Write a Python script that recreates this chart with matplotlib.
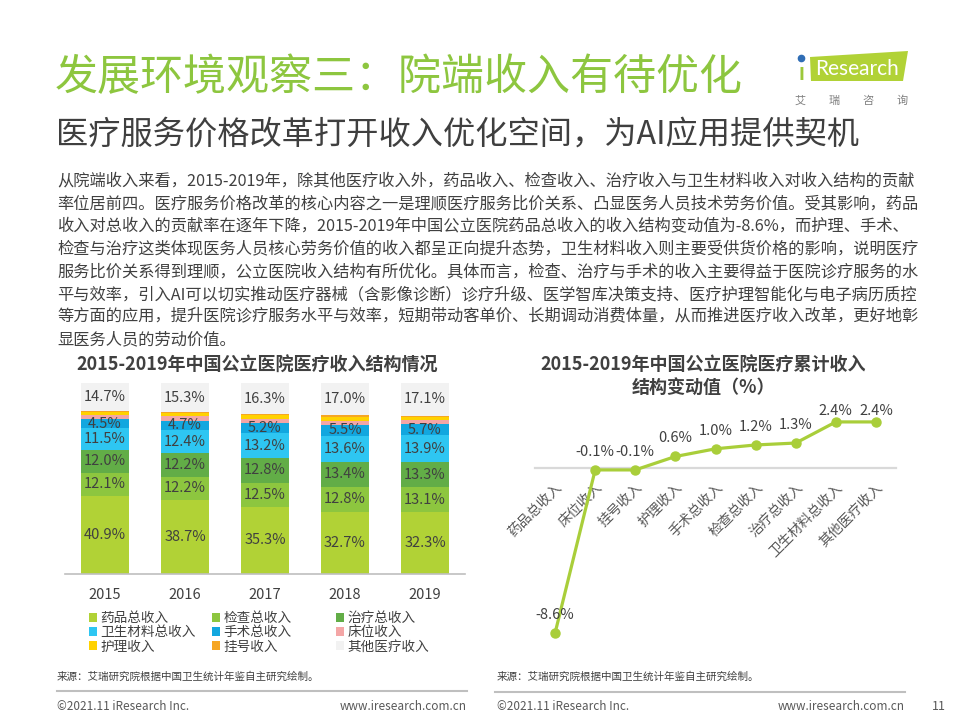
import matplotlib
matplotlib.use('Agg')
import matplotlib.pyplot as plt
from matplotlib.patches import Patch, Polygon
from matplotlib.lines import Line2D

plt.rcParams['font.family'] = ['Noto Sans CJK SC', 'DejaVu Sans']

# ---- data ----
years = ['2015', '2016', '2017', '2018', '2019']
legend_names = ['药品总收入', '检查总收入', '治疗总收入', '卫生材料总收入', '手术总收入',
                '床位收入', '护理收入', '挂号收入', '其他医疗收入']
drug = [40.9, 38.7, 35.3, 32.7, 32.3]
exam = [12.1, 12.2, 12.5, 12.8, 13.1]
treat = [12.0, 12.2, 12.8, 13.4, 13.3]
material = [11.5, 12.4, 13.2, 13.6, 13.9]
surgery = [4.5, 4.7, 5.2, 5.5, 5.7]
bed = [2.3, 2.3, 2.3, 2.3, 2.2]
nursing = [1.4, 1.6, 1.8, 2.1, 1.9]
register = [0.6, 0.6, 0.6, 0.6, 0.5]
other = [14.7, 15.3, 16.3, 17.0, 17.1]

change_cats = ['药品总收入', '床位收入', '挂号收入', '护理收入', '手术总收入',
               '检查总收入', '治疗总收入', '卫生材料总收入', '其他医疗收入']
change_vals = [-8.6, -0.1, -0.1, 0.6, 1.0, 1.2, 1.3, 2.4, 2.4]

paragraph = [
    '从院端收入来看，2015-2019年，除其他医疗收入外，药品收入、检查收入、治疗收入与卫生材料收入对收入结构的贡献',
    '率位居前四。医疗服务价格改革的核心内容之一是理顺医疗服务比价关系、凸显医务人员技术劳务价值。受其影响，药品',
    '收入对总收入的贡献率在逐年下降，2015-2019年中国公立医院药品总收入的收入结构变动值为-8.6%，而护理、手术、',
    '检查与治疗这类体现医务人员核心劳务价值的收入都呈正向提升态势，卫生材料收入则主要受供货价格的影响，说明医疗',
    '服务比价关系得到理顺，公立医院收入结构有所优化。具体而言，检查、治疗与手术的收入主要得益于医院诊疗服务的水',
    '平与效率，引入AI可以切实推动医疗器械（含影像诊断）诊疗升级、医学智库决策支持、医疗护理智能化与电子病历质控',
    '等方面的应用，提升医院诊疗服务水平与效率，短期带动客单价、长期调动消费体量，从而推进医疗收入改革，更好地彰',
    '显医务人员的劳动价值。',
]

series = [drug, exam, treat, material, surgery, bed, nursing, register, other]
colors = ['#B1D236', '#8DC63F', '#62AD47', '#2EC6F2', '#12A7DF',
          '#F4A6A6', '#FFD200', '#F6A623', '#F2F2F2']
labelled = [True, True, True, True, True, False, False, False, True]

W, H = 960, 720
TXT = '#404040'
GREEN = '#8DC63F'


def fx(px):
    return px / W


def fy(py):
    return 1 - py / H


fig = plt.figure(figsize=(9.6, 7.2), dpi=100)

# ---- header ----
fig.text(fx(55), fy(78), '发展环境观察三：院端收入有待优化', color=GREEN,
         fontsize=31, va='center', ha='left')
fig.text(fx(56), fy(135), '医疗服务价格改革打开收入优化空间，为AI应用提供契机', color='#3F3F3F',
         fontsize=23.2, va='center', ha='left')

# logo
logo = Polygon([(fx(810), fy(57)), (fx(908), fy(51)), (fx(903), fy(81)), (fx(811), fy(81))],
               closed=True, transform=fig.transFigure, facecolor='#B1D236', edgecolor='none')
fig.add_artist(logo)
fig.text(fx(857), fy(69), 'Research', color='white', fontsize=15, family='Lato',
         ha='center', va='center')
fig.text(fx(801), fy(72), '\u0131', color='#9CC83A', fontsize=17, family='Lato',
         fontweight='bold', ha='center', va='center')
fig.add_artist(Line2D([fx(801)], [fy(58)], transform=fig.transFigure, marker='o',
                      markersize=4.5, color='#2F6DB5', linestyle='none'))
for k, ch in enumerate('艾瑞咨询'):
    fig.text(fx(800 + 34 * k), fy(101), ch, color='#7F7F7F', fontsize=8,
             ha='center', va='center')

for i, line in enumerate(paragraph):
    fig.text(fx(57), fy(181 + 22.7 * i), line, color=TXT, fontsize=11.7,
             ha='left', va='center')

# ---- left chart: stacked bars ----
fig.text(fx(257), fy(365), '2015-2019年中国公立医院医疗收入结构情况', color=TXT,
         fontsize=13, fontweight='bold', ha='center', va='center')

ax1 = fig.add_axes([fx(65), fy(574), fx(400), 191 / H])
x = range(len(years))
bottom = [0.0] * len(years)
for vals, c, show in zip(series, colors, labelled):
    bars = ax1.bar(x, vals, bottom=bottom, width=0.61, color=c, edgecolor='none')
    if show:
        ax1.bar_label(bars, labels=['%.1f%%' % v for v in vals], label_type='center',
                      color=TXT, fontsize=10.5)
    bottom = [b + v for b, v in zip(bottom, vals)]
ax1.set_xlim(-0.5, 4.5)
ax1.set_ylim(0, 100)
ax1.set_xticks(list(x))
ax1.set_xticklabels(years, fontsize=10.5, color=TXT)
ax1.tick_params(axis='x', length=0, pad=10)
ax1.set_yticks([])
for s in ['top', 'right', 'left']:
    ax1.spines[s].set_visible(False)
ax1.spines['bottom'].set_color('#BFBFBF')
ax1.spines['bottom'].set_linewidth(1.2)

# legend: three fixed-width columns, filled row by row
handles = [Patch(facecolor=c, edgecolor='none') for c in colors]
col_x = [89, 212, 336]
for col in range(3):
    idx = [col, col + 3, col + 6]
    fig.legend([handles[i] for i in idx], [legend_names[i] for i in idx],
               loc='upper left', bbox_to_anchor=(fx(col_x[col]), fy(611)),
               frameon=False, fontsize=9.8, handlelength=0.6, handleheight=0.6,
               handletextpad=0.25, labelspacing=0.02, borderpad=0, borderaxespad=0,
               labelcolor=TXT)

# ---- right chart: cumulative change line ----
fig.text(fx(703), fy(365), '2015-2019年中国公立医院医疗累计收入', color=TXT,
         fontsize=13, fontweight='bold', ha='center', va='center')
fig.text(fx(703), fy(388), '结构变动值（%）', color=TXT,
         fontsize=13, fontweight='bold', ha='center', va='center')

ax2 = fig.add_axes([fx(535), fy(640.8), fx(361), 230.4 / H])
xi = list(range(len(change_cats)))
ax2.plot(xi, change_vals, color='#A9CE3A', linewidth=2.3, marker='o', markersize=6.5,
         clip_on=False, zorder=3)
top = max(change_vals)
for i, v in zip(xi, change_vals):
    dy = 11 if v == top else 18
    ax2.annotate('%.1f%%' % v, (i, v), xytext=(0, dy * 0.72), textcoords='offset points',
                 ha='center', va='center', color=TXT, fontsize=10.5)
ax2.set_xlim(-0.5, 8.5)
ax2.set_ylim(-9, 3)
ax2.spines['bottom'].set_position(('data', 0))
ax2.spines['bottom'].set_color('#D9D9D9')
ax2.spines['bottom'].set_linewidth(1.6)
for s in ['top', 'right', 'left']:
    ax2.spines[s].set_visible(False)
ax2.set_yticks([])
ax2.set_xticks(xi)
ax2.set_xticklabels(change_cats, rotation=45, ha='right', rotation_mode='anchor',
                    fontsize=10, color='#595959')
ax2.tick_params(axis='x', length=0, pad=9)

# ---- sources and footer ----
src = '来源：艾瑞研究院根据中国卫生统计年鉴自主研究绘制。'
fig.text(fx(57), fy(677), src, color=TXT, fontsize=7.6, ha='left', va='center')
fig.text(fx(497), fy(677), src, color=TXT, fontsize=7.6, ha='left', va='center')
fig.add_artist(Line2D([fx(57), fx(467)], [fy(691), fy(691)], transform=fig.transFigure,
                      color='#BFBFBF', linewidth=1.5))
fig.add_artist(Line2D([fx(495), fx(905)], [fy(692), fy(692)], transform=fig.transFigure,
                      color='#BFBFBF', linewidth=1.5))
for left, right in [(57, 467), (497, 905)]:
    fig.text(fx(left), fy(706), '©2021.11 iResearch Inc.', color='#595959', fontsize=8.5,
             ha='left', va='center')
    fig.text(fx(right), fy(706), 'www.iresearch.com.cn', color='#595959', fontsize=8.5,
             ha='right', va='center')
fig.text(fx(946), fy(706), '11', color='#595959', fontsize=9, ha='right', va='center')

fig.savefig('out.png', dpi=100)
